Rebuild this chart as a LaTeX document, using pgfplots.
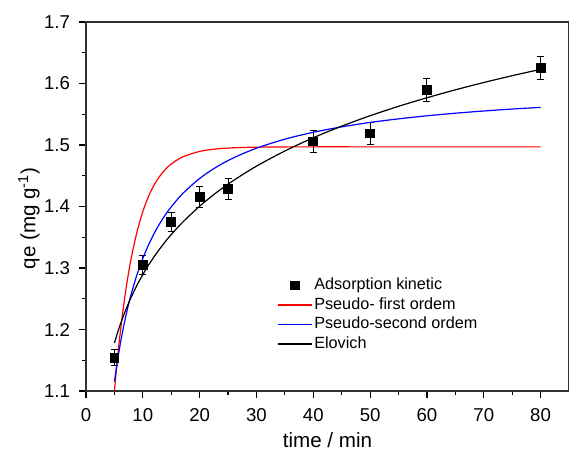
\documentclass[border=0pt]{standalone}
\usepackage{fontspec}
\setmainfont{Liberation Sans}
\usepackage{pgfplots}
\pgfplotsset{compat=1.18}
\usetikzlibrary{calc}

\begin{document}
\begin{tikzpicture}
\begin{axis}[
    name=ax,
    scale only axis,
    width=241.5pt, height=184.5pt,
    xmin=0, xmax=85, ymin=1.1, ymax=1.7,
    xtick={0,10,...,80}, minor x tick num=1,
    ytick={1.1,1.2,...,1.7}, minor y tick num=1,
    yticklabel style={xshift=-1pt, /pgf/number format/.cd, fixed, fixed zerofill, precision=1},
    /pgf/number format/assume math mode=true,
    tick align=outside,
    xtick pos=bottom, ytick pos=left,
    major tick length=3.5pt, minor tick length=2pt,
    every tick/.style={black, line width=0.6pt},
    axis line style={line width=0.75pt, black!80},
    tick label style={font=\fontsize{9.3}{11}\selectfont},
    xticklabel style={yshift=-1.5pt},
    xlabel={time / min},
    ylabel={qe (mg g\textsuperscript{-1})},
    label style={font=\fontsize{10.3}{12}\selectfont},
    xlabel style={at={(rel axis cs:0.5,0)}, anchor=base, yshift=-28pt},
    ylabel style={at={(rel axis cs:-0.118,0.468)}, anchor=center},
    legend style={draw=none, fill=none, at={(0.395,0.312)}, anchor=north west,
        font=\fontsize{8.1}{9.75}\selectfont, inner sep=0pt,
        row sep=0.6pt, nodes={inner sep=0.9pt}},
    legend cell align=left,
]
\addplot[only marks, mark=square*, mark size=2.2pt, black,
    error bars/.cd, y dir=both, y explicit,
    error bar style={line width=0.5pt, black},
    error mark options={rotate=90, mark size=1.75pt, line width=0.5pt}]
coordinates {
    (5,1.154)  +- (0,0.013)
    (10,1.305) +- (0,0.015)
    (15,1.375) +- (0,0.016)
    (20,1.415) +- (0,0.017)
    (25,1.429) +- (0,0.017)
    (40,1.506) +- (0,0.018)
    (50,1.519) +- (0,0.018)
    (60,1.589) +- (0,0.019)
    (80,1.625) +- (0,0.019)
};
\addlegendentry{Adsorption kinetic}

% pseudo-first order fit
\addplot[red, line width=0.6pt, no marks, smooth] coordinates {
    (5,1.1001) (5.5,1.1494) (6,1.1927) (6.5,1.2305) (7,1.2636) (7.5,1.2927)
    (8,1.3181) (9,1.3597) (10,1.3918) (11,1.4163) (12,1.4352) (13,1.4495)
    (14,1.4606) (15,1.4691) (17,1.4806) (20,1.4896) (23,1.4937) (26,1.4955)
    (30,1.4965) (35,1.4969) (40,1.4970) (50,1.4970) (60,1.4970) (70,1.4970) (80,1.4970)
};
\addlegendentry{Pseudo- first ordem}

% pseudo-second order fit
\addplot[blue, line width=0.6pt, no marks, smooth] coordinates {
    (5,1.1152) (5.5,1.1469) (6,1.1748) (6.5,1.1995) (7,1.2215) (7.5,1.2413)
    (8,1.2591) (9,1.2899) (10,1.3156) (11,1.3375) (12,1.3563) (13,1.3726)
    (14,1.3869) (15,1.3995) (17,1.4208) (20,1.4456) (23,1.4645) (26,1.4793)
    (30,1.4948) (35,1.5095) (40,1.5207) (45,1.5295) (50,1.5367) (55,1.5425)
    (60,1.5475) (65,1.5517) (70,1.5553) (75,1.5585) (80,1.5612)
};
\addlegendentry{Pseudo-second ordem}

% Elovich fit
\addplot[black, line width=0.6pt, no marks, smooth] coordinates {
    (5,1.1780) (5.5,1.1933) (6,1.2073) (6.5,1.2201) (7,1.2320) (7.5,1.2431)
    (8,1.2534) (9,1.2724) (10,1.2893) (11,1.3046) (12,1.3185) (13,1.3314)
    (14,1.3433) (15,1.3544) (17,1.3744) (20,1.4005) (23,1.4230) (26,1.4426)
    (30,1.4656) (35,1.4903) (40,1.5118) (45,1.5307) (50,1.5476) (55,1.5629)
    (60,1.5768) (65,1.5897) (70,1.6016) (75,1.6127) (80,1.6230)
};
\addlegendentry{Elovich}
\end{axis}
\pgfresetboundingbox
\path[use as bounding box] ($(ax.south west)+(-43pt,-32pt)$) rectangle ($(ax.north east)+(0pt,11pt)$);
\end{tikzpicture}
\end{document}
